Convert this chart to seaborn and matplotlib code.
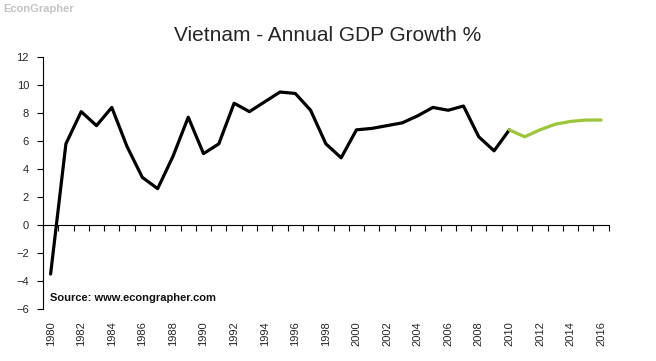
import matplotlib
matplotlib.use("Agg")
import matplotlib.pyplot as plt
import numpy as np
import pandas as pd
import seaborn as sns

sns.set_theme(style="white")
plt.rcParams["font.family"] = ["Liberation Sans", "DejaVu Sans"]

# ---------------------------------------------------------------------------
# DATA
# ---------------------------------------------------------------------------
actual_years = list(range(1980, 2011))
actual_growth = [-3.5, 5.8, 8.1, 7.1, 8.4, 5.6, 3.4, 2.6, 4.9, 7.7,
                 5.1, 5.8, 8.7, 8.1, 8.8, 9.5, 9.4, 8.2, 5.8, 4.8,
                 6.8, 6.9, 7.1, 7.3, 7.8, 8.4, 8.2, 8.5, 6.3, 5.3,
                 6.8]
forecast_years = list(range(2010, 2017))
forecast_growth = [6.8, 6.3, 6.8, 7.2, 7.4, 7.5, 7.5]

y_ticks = list(range(-6, 13, 2))
x_label_years = list(range(1980, 2017, 2))

actual = pd.DataFrame({"Year": actual_years, "Growth": actual_growth})
forecast = pd.DataFrame({"Year": forecast_years, "Growth": forecast_growth})

# ---------------------------------------------------------------------------
# PLOT
# ---------------------------------------------------------------------------
fig = plt.figure(figsize=(6.56, 3.61), dpi=100)
ax = fig.add_axes([0.0655, 0.144, 0.8625, 0.698])

sns.lineplot(data=actual, x="Year", y="Growth", ax=ax, color="black", lw=2.3)
sns.lineplot(data=forecast, x="Year", y="Growth", ax=ax, color="#9cc53a", lw=2.3)

ax.set_xlim(1979.5, 2016.5)
ax.set_ylim(-6, 12)
ax.set_xlabel("")
ax.set_ylabel("")

# y axis
ax.set_yticks(y_ticks)
ax.tick_params(axis="y", direction="out", length=4, width=0.8, color="black",
               labelsize=8, pad=6, left=True)
for s in ["top", "right", "bottom"]:
    ax.spines[s].set_visible(False)
ax.spines["left"].set_color("black")
ax.spines["left"].set_linewidth(0.8)

# x labels at the bottom, no marks
ax.set_xticks(x_label_years)
ax.set_xticklabels([str(y) for y in x_label_years], rotation=90)
ax.tick_params(axis="x", length=0, labelsize=8, pad=9)

# category axis drawn at zero with boundary tick marks
zero_frac = (0 - (-6)) / (12 - (-6))
sec = ax.secondary_xaxis(zero_frac)
sec.xaxis.set_ticks_position("bottom")
sec.set_xticks(np.arange(1979.5, 2017, 1))
sec.set_xticklabels([])
sec.tick_params(axis="x", direction="out", length=4, width=0.8, color="black",
                labelbottom=False, labeltop=False)
sec.spines["bottom"].set_color("black")
sec.spines["bottom"].set_linewidth(0.8)

ax.grid(False)

fig.text(0.5, 0.903, "Vietnam - Annual GDP Growth %", ha="center", va="center",
         fontsize=15)
fig.text(0.005, 0.975, "EconGrapher", ha="left", va="center", fontsize=8,
         color="#c4c4c4", fontweight="bold")
ax.text(0.013, 0.045, "Source: www.econgrapher.com", transform=ax.transAxes,
        ha="left", va="center", fontsize=8, fontweight="bold", color="#111111")

fig.savefig("out.png", dpi=100)
